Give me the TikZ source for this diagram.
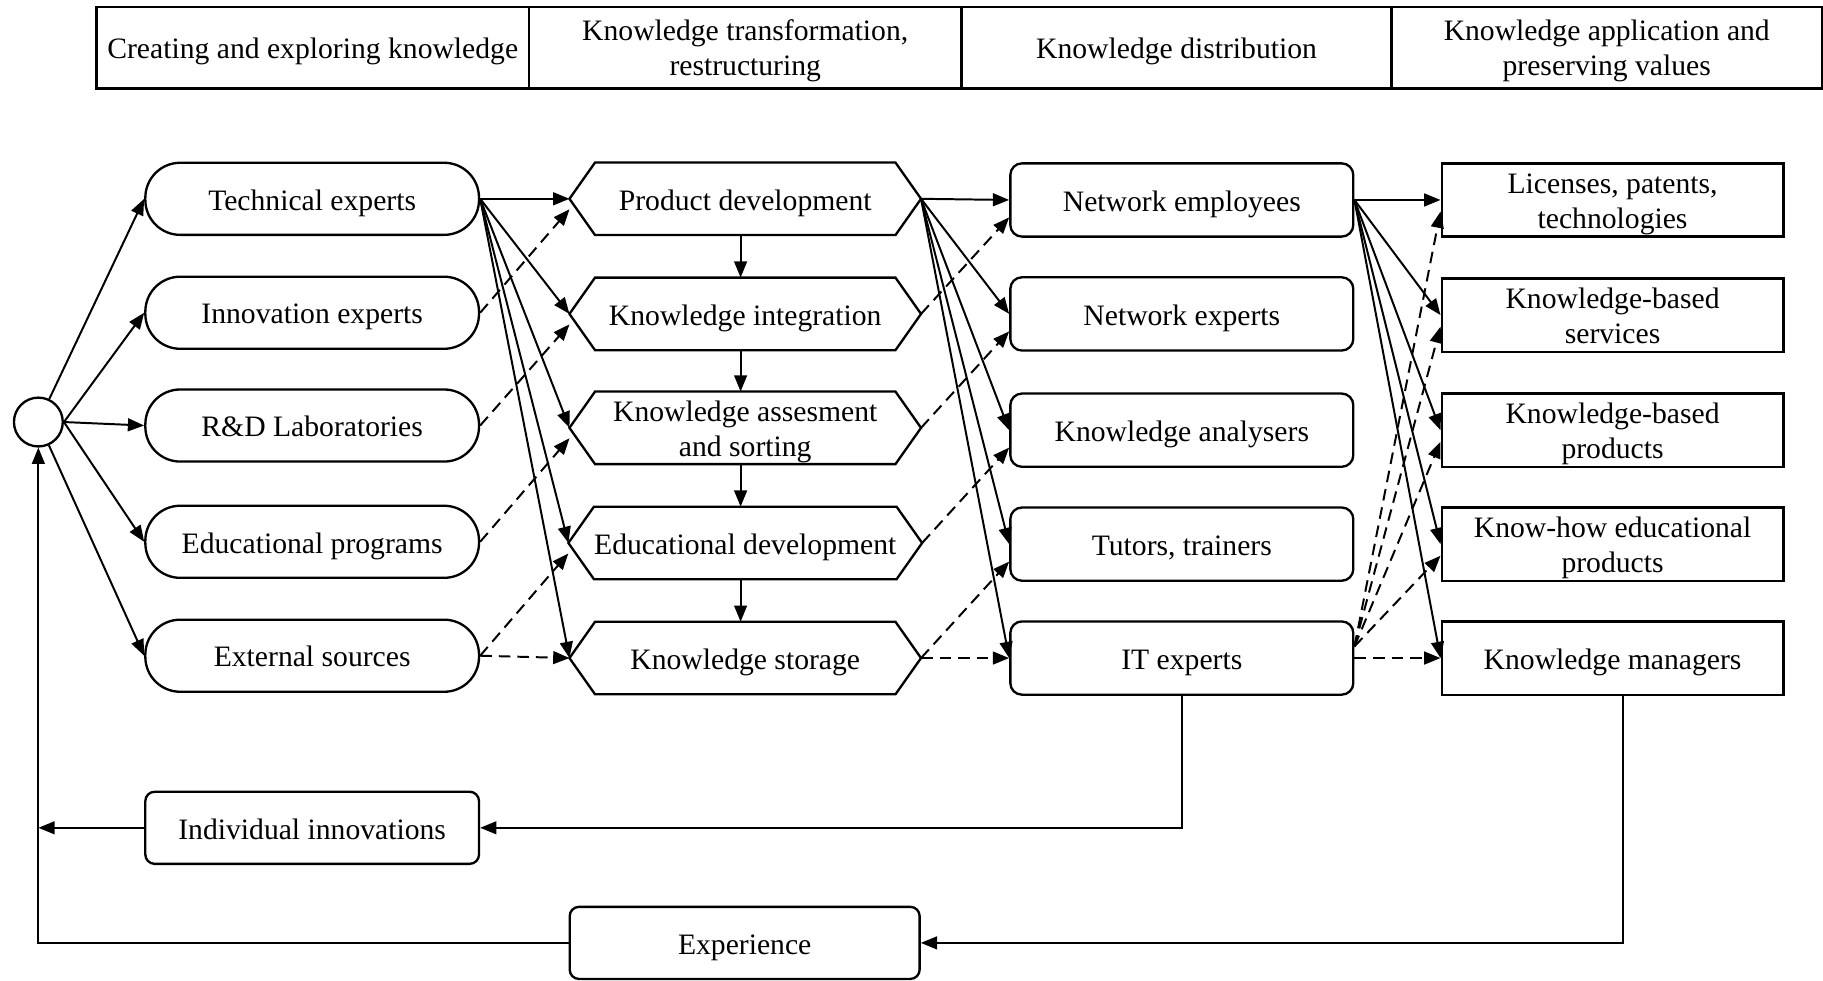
\documentclass[tikz,border=0pt]{standalone}
\usepackage{fontspec}
\setmainfont{Liberation Serif}
\usetikzlibrary{arrows.meta}
\begin{document}
\begin{tikzpicture}[x=1pt,y=-1pt,
  every node/.style={font=\fontsize{25.5}{30}\selectfont, align=center, inner sep=0pt},
  one/.style={text height=24pt, text depth=4.7pt},
  two/.style={text height=54pt, text depth=5.5pt},
  lw/.style={line width=2pt},
  stad/.style={draw, lw, rounded corners=30pt, minimum width=287pt, minimum height=62pt},
  hexin/.style={minimum width=258pt, minimum height=62pt},
  rbox/.style={draw, lw, rounded corners=10pt, minimum width=295pt, minimum height=63pt},
  sbox/.style={draw, lw, minimum width=294pt, minimum height=63pt},
  bbox/.style={draw, lw, rounded corners=8pt, minimum height=62pt},
  hdr/.style={draw, line width=2.2pt, minimum height=70pt},
  arr/.style={-{Triangle[length=14pt,width=11pt]}, line width=1.7pt},
  darr/.style={arr, dash pattern=on 10pt off 6pt},
]
\useasboundingbox (0,0) rectangle (1568,843);

% header
\node[hdr, one, minimum width=372pt] (h1) at (269,41) {Creating and exploring knowledge};
\node[hdr, two, minimum width=372pt] (h2) at (641,41) {Knowledge transformation,\\restructuring};
\node[hdr, one, minimum width=370pt] (h3) at (1012,41) {Knowledge distribution};
\node[hdr, two, minimum width=370pt] (h4) at (1382,41) {Knowledge application and\\preserving values};

% start circle
\node[draw, lw, circle, minimum size=42pt] (circ) at (33,363) {};

% column 1
\node[stad, one] (te) at (268.5,171) {Technical experts};
\node[stad, one] (ie) at (268.5,269) {Innovation experts};
\node[stad, one] (rd) at (268.5,366) {R\&D Laboratories};
\node[stad, one] (ep) at (268.5,466) {Educational programs};
\node[stad, one] (es) at (268.5,564) {External sources};

% column 2 (hexagons)
\node[hexin, one] (pd) at (641,171) {Product development};
\node[hexin, one] (ki) at (641,270) {Knowledge integration};
\node[hexin, two] (ka) at (641,368) {Knowledge assesment\\and sorting};
\node[hexin, one] (ed) at (641,467) {Educational development};
\node[hexin, one] (ks) at (641,566) {Knowledge storage};
\foreach \n in {pd,ki,ka,ed,ks}{
  \coordinate (\n-l) at ([xshift=-22pt]\n.west);
  \coordinate (\n-r) at ([xshift=22pt]\n.east);
  \draw[lw, line join=miter] (\n.north west) -- (\n.north east) -- (\n-r)
    -- (\n.south east) -- (\n.south west) -- (\n-l) -- cycle;
}

% column 3
\node[rbox, one] (ne) at (1016.5,172) {Network employees};
\node[rbox, one] (nx) at (1016.5,270) {Network experts};
\node[rbox, one] (na) at (1016.5,370) {Knowledge analysers};
\node[rbox, one] (tt) at (1016.5,468) {Tutors, trainers};
\node[rbox, one] (it) at (1016.5,566) {IT experts};

% column 4
\node[sbox, two] (lic) at (1387,172) {Licenses, patents,\\technologies};
\node[sbox, two] (kbs) at (1387,271) {Knowledge-based\\services};
\node[sbox, two] (kbp) at (1387,370) {Knowledge-based\\products};
\node[sbox, two] (kh) at (1387,468) {Know-how educational\\products};
\node[sbox, one] (km) at (1387,566) {Knowledge managers};

% bottom boxes
\node[bbox, one, minimum width=287pt] (ii) at (268.5,712) {Individual innovations};
\node[bbox, one, minimum width=301pt] (exp) at (640.5,811) {Experience};

% circle to column 1
\draw[arr] (circ) -- (te.west);
\draw[arr] (circ.east) -- (ie.west);
\draw[arr] (circ.east) -- (rd.west);
\draw[arr] (circ.east) -- (ep.west);
\draw[arr] (circ) -- (es.west);

% column 1 to column 2
\foreach \t in {pd,ki,ka,ed,ks} \draw[arr] (te.east) -- (\t-l);
\draw[darr] (ie.east) -- ([yshift=-9pt]pd-l);
\draw[darr] (rd.east) -- ([yshift=-9pt]ki-l);
\draw[darr] (ep.east) -- ([yshift=-9pt]ka-l);
\draw[darr] (es.east) -- ([yshift=-9pt]ed-l);
\draw[darr] (es.east) -- (ks-l);

% column 2 vertical chain
\draw[arr] ([xshift=-4pt]pd.south) -- ([xshift=-4pt]ki.north);
\draw[arr] ([xshift=-4pt]ki.south) -- ([xshift=-4pt]ka.north);
\draw[arr] ([xshift=-4pt]ka.south) -- ([xshift=-4pt]ed.north);
\draw[arr] ([xshift=-4pt]ed.south) -- ([xshift=-4pt]ks.north);

% column 2 to column 3
\foreach \t in {ne,nx,na,tt,it} \draw[arr] (pd-r) -- (\t.west);
\draw[darr] (ki-r) -- ([yshift=-15pt]ne.west);
\draw[darr] (ka-r) -- ([yshift=-15pt]nx.west);
\draw[darr] (ed-r) -- ([yshift=-15pt]na.west);
\draw[darr] (ks-r) -- ([yshift=-15pt]tt.west);
\draw[darr] (ks-r) -- (it.west);

% column 3 to column 4
\foreach \t in {lic,kbs,kbp,kh,km} \draw[arr] (ne.east) -- (\t.west);
\foreach \t in {lic,kbs,kbp,kh} \draw[darr] ([yshift=10pt]it.east) -- ([yshift=-10pt]\t.west);
\draw[darr] (it.east) -- (km.west);

% feedback loops
\draw[arr] (it.south) |- (ii.east);
\draw[arr] (ii.west) -- (ii.west -| circ.south);
\draw[arr] ([xshift=9pt]km.south) |- (exp.east);
\draw[arr] (exp.west) -| (circ.south);
\end{tikzpicture}
\end{document}
